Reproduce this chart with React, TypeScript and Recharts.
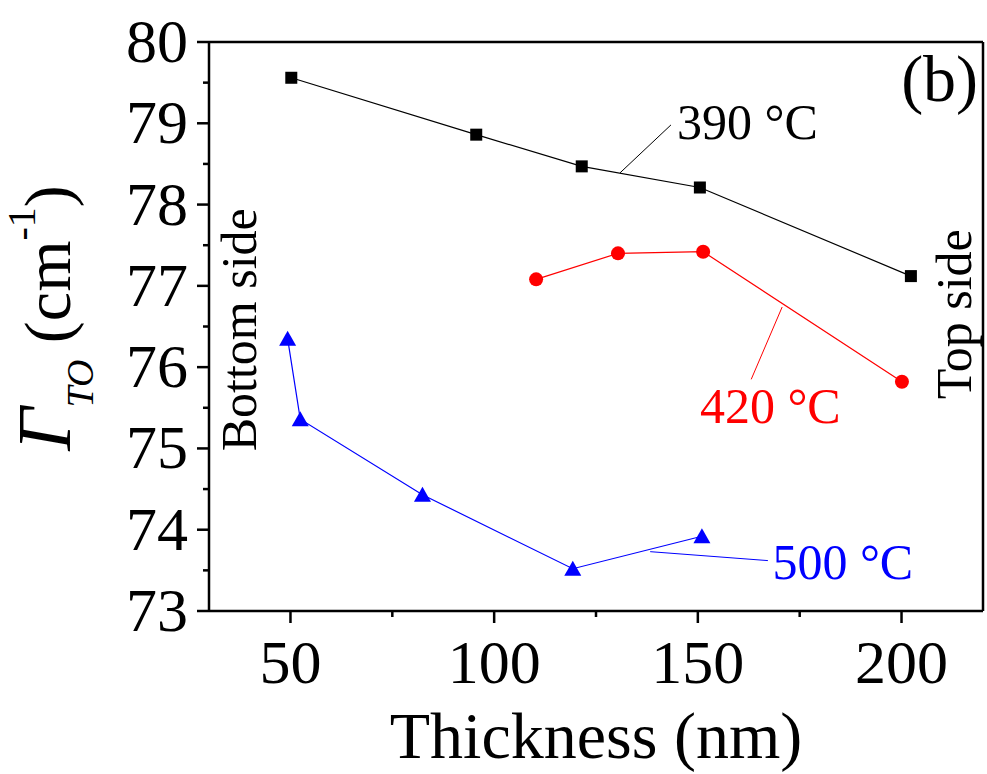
import { LineChart, Line, XAxis, YAxis, ReferenceLine, ReferenceDot } from 'recharts';

// thickness (nm) and Γ_TO (cm^-1)
const thickness390 = [50.2, 95.6, 121.5, 150.5, 202.3];
const gamma390 = [79.56, 78.86, 78.47, 78.21, 77.12];
const thickness420 = [110.3, 130.4, 151.3, 200.1];
const gamma420 = [77.08, 77.4, 77.42, 75.82];
const thickness500 = [49.3, 52.4, 82.4, 119.3, 151.0];
const gamma500 = [76.35, 75.36, 74.43, 73.52, 73.92];

const seriesLabels = ['390 °C', '420 °C', '500 °C'];
const xTicks = [50, 75, 100, 125, 150, 175, 200];
const yTicks = [73, 73.5, 74, 74.5, 75, 75.5, 76, 76.5, 77, 77.5, 78, 78.5, 79, 79.5, 80];

const FONT = '"Liberation Serif", "Times New Roman", serif';

const toPoints = (xs: number[], ys: number[]) => xs.map((x, i) => ({ x, y: ys[i] }));
const data390 = toPoints(thickness390, gamma390);
const data420 = toPoints(thickness420, gamma420);
const data500 = toPoints(thickness500, gamma500);

function XTick(props: any) {
  const { x, y, payload } = props;
  const major = payload.value % 50 === 0;
  return (
    <g>
      <line x1={x} x2={x} y1={y} y2={y + (major ? 12 : 6)} stroke="#000" strokeWidth={2.5} />
      {major && (
        <text x={x} y={y + 72} textAnchor="middle" fontFamily={FONT} fontSize={62} fill="#000">
          {payload.value}
        </text>
      )}
    </g>
  );
}

function YTick(props: any) {
  const { x, y, payload } = props;
  const major = Number.isInteger(payload.value);
  return (
    <g>
      <line x1={x} x2={x - (major ? 12 : 6)} y1={y} y2={y} stroke="#000" strokeWidth={2.5} />
      {major && (
        <text x={x - 21} y={y + 20} textAnchor="end" fontFamily={FONT} fontSize={62} fill="#000">
          {payload.value}
        </text>
      )}
    </g>
  );
}

const xLabel = () => (
  <text x={596} y={758} textAnchor="middle" fontFamily={FONT} fontSize={66} fill="#000">
    Thickness (nm)
  </text>
);

const yLabel = () => (
  <text transform="translate(70,318) rotate(-90)" textAnchor="middle" fontFamily={FONT} fill="#000">
    <tspan fontStyle="italic" fontSize={76}>Γ</tspan>
    <tspan fontStyle="italic" fontSize={38} dy={23}>TO</tspan>
    <tspan fontSize={66} dy={-23}> (cm</tspan>
    <tspan fontSize={40} dy={-35}>-1</tspan>
    <tspan fontSize={66} dy={35}>)</tspan>
  </text>
);

const square = (p: any) => (
  <rect key={`s${p.index}`} x={p.cx - 6} y={p.cy - 6} width={12} height={12} fill="#000" />
);
const circle = (p: any) => <circle key={`c${p.index}`} cx={p.cx} cy={p.cy} r={7} fill="#ff0000" />;
const triangle = (p: any) => (
  <polygon
    key={`t${p.index}`}
    points={`${p.cx},${p.cy - 8} ${p.cx - 8.5},${p.cy + 7} ${p.cx + 8.5},${p.cy + 7}`}
    fill="#0000ff"
  />
);

const textAt = (value: string, color: string, size: number, anchor = 'start', rotate = false) =>
  (p: any) => (
    <text
      x={p.cx}
      y={p.cy}
      textAnchor={anchor}
      transform={rotate ? `rotate(-90, ${p.cx}, ${p.cy})` : undefined}
      fontFamily={FONT}
      fontSize={size}
      fill={color}
    >
      {value}
    </text>
  );

export default function App() {
  return (
    <div style={{ position: 'absolute', left: 0, top: 0, background: '#fff' }}>
      <LineChart width={987} height={774} margin={{ top: 42, right: 4, bottom: 0, left: 0 }}>
        <XAxis
          type="number"
          dataKey="x"
          domain={[30, 220]}
          ticks={xTicks}
          interval={0}
          allowDataOverflow
          height={163}
          tickSize={0}
          tickMargin={0}
          tickLine={false}
          tick={XTick}
          axisLine={{ stroke: '#000', strokeWidth: 2.5 }}
          label={xLabel}
        />
        <YAxis
          type="number"
          domain={[73, 80]}
          ticks={yTicks}
          interval={0}
          allowDataOverflow
          width={209}
          tickSize={0}
          tickMargin={0}
          tickLine={false}
          tick={YTick}
          axisLine={{ stroke: '#000', strokeWidth: 2.5 }}
          label={yLabel}
        />
        <ReferenceLine y={80} stroke="#000" strokeWidth={2.5} />
        <ReferenceLine x={220} stroke="#000" strokeWidth={2.5} />

        <Line data={data390} dataKey="y" stroke="#000" strokeWidth={1.2} dot={square} activeDot={false} isAnimationActive={false} />
        <Line data={data420} dataKey="y" stroke="#ff0000" strokeWidth={1.2} dot={circle} activeDot={false} isAnimationActive={false} />
        <Line data={data500} dataKey="y" stroke="#0000ff" strokeWidth={1.2} dot={triangle} activeDot={false} isAnimationActive={false} />

        <ReferenceLine segment={[{ x: 130.9, y: 78.39 }, { x: 143.4, y: 78.98 }]} stroke="#000" strokeWidth={1} />
        <ReferenceLine segment={[{ x: 170.7, y: 76.74 }, { x: 163.1, y: 75.85 }]} stroke="#ff0000" strokeWidth={1} />
        <ReferenceLine segment={[{ x: 138.3, y: 73.73 }, { x: 167.2, y: 73.62 }]} stroke="#0000ff" strokeWidth={1} />

        <ReferenceDot x={144.9} y={78.81} r={0} shape={textAt(seriesLabels[0], '#000', 50)} />
        <ReferenceDot x={150.5} y={75.31} r={0} shape={textAt(seriesLabels[1], '#ff0000', 50)} />
        <ReferenceDot x={168.3} y={73.39} r={0} shape={textAt(seriesLabels[2], '#0000ff', 50)} />
        <ReferenceDot x={218.8} y={79.28} r={0} shape={textAt('(b)', '#000', 66, 'end')} />
        <ReferenceDot x={41.6} y={76.46} r={0} shape={textAt('Bottom side', '#000', 50, 'middle', true)} />
        <ReferenceDot x={217} y={76.65} r={0} shape={textAt('Top side', '#000', 50, 'middle', true)} />
      </LineChart>
    </div>
  );
}
